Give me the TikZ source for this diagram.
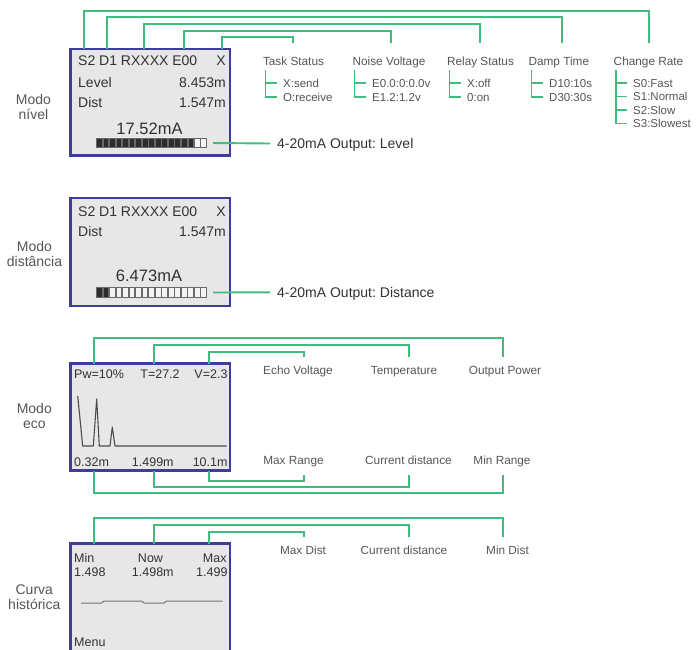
\documentclass[tikz,border=0pt]{standalone}
\usepackage{fontspec}
\setmainfont{Liberation Sans}
\frenchspacing
\definecolor{grn}{RGB}{64,188,124}
\definecolor{lcdblue}{RGB}{62,62,152}
\definecolor{lcdgray}{RGB}{231,231,231}
\definecolor{dtext}{RGB}{50,50,50}
\definecolor{labtext}{RGB}{85,85,85}
\definecolor{segdark}{RGB}{45,45,45}
\definecolor{segedge}{RGB}{105,105,105}
\definecolor{segoff}{RGB}{244,244,244}
\tikzset{
  conn/.style={draw=grn, line width=1.9pt},
  lcd/.style={draw=lcdblue, fill=lcdgray, line width=2.5pt, inner sep=0pt, outer sep=0pt, anchor=north west, minimum width=159.5pt},
  dtxt/.style={inner sep=0pt, text=dtext, font=\fontsize{14}{16}\selectfont, text height=10pt, text depth=0pt},
  etxt/.style={inner sep=0pt, text=dtext, font=\fontsize{12.5}{14}\selectfont, text height=8.95pt, text depth=0pt},
  bigtxt/.style={inner sep=0pt, text=dtext, font=\fontsize{16.5}{18}\selectfont, text height=11.8pt, text depth=0pt},
  side/.style={align=center, inner sep=0pt, text=labtext, font=\fontsize{14}{15.3}\selectfont},
  head/.style={inner sep=0pt, text=labtext, font=\fontsize{11.8}{13}\selectfont, text height=8.45pt, text depth=0pt},
  item/.style={inner sep=0pt, text=labtext, font=\fontsize{11.5}{13}\selectfont, text height=8.2pt, text depth=0pt, anchor=west},
  outl/.style={inner sep=0pt, text=dtext, font=\fontsize{14}{16}\selectfont, text height=10pt, text depth=0pt, anchor=west},
  barbox/.style={inner sep=0pt, outer sep=0pt, minimum width=111pt, minimum height=10pt},
  segon/.style={draw=segedge, fill=segdark, line width=0.6pt},
  segof/.style={draw=segedge, fill=segoff, line width=0.8pt},
  wave/.style={draw=black!70, line width=1.1pt, line join=round},
  flat/.style={draw=black!55, line width=1pt},
}
\begin{document}
\begin{tikzpicture}[x=1pt,y=-1pt]
\useasboundingbox (0,0) rectangle (696,649);

% ---------------- side labels
\node[side] (s1) at (33.5,106.8) {Modo\\nível};
\node[side] (s2) at (34.5,254.3) {Modo\\distância};
\node[side] (s3) at (34.3,415.7) {Modo\\eco};
\node[side] (s4) at (34.3,597.5) {Curva\\histórica};

% ---------------- panel 1 : Modo nivel
\node[lcd, minimum height=106.5pt] (lvl) at (70.25,49) {};
\node[dtxt, anchor=west] (l1) at (78,60) {S2 D1 RXXXX E00};
\node[dtxt, anchor=east] (l2) at (226,60) {X};
\node[dtxt, anchor=west] (l3) at (78,82.5) {Level};
\node[dtxt, anchor=east] (l4) at (226,82.5) {8.453m};
\node[dtxt, anchor=west] (l5) at (78,102) {Dist};
\node[dtxt, anchor=east] (l6) at (226,102) {1.547m};
\node[bigtxt] (l7) at (149.5,128.7) {17.52mA};
\node[barbox] (bar1) at (151.5,143) {};
\foreach \i in {0,...,16}{
  \pgfmathsetmacro\xa{96+\i*6.53+0.4}
  \pgfmathsetmacro\xb{96+(\i+1)*6.53-0.4}
  \ifnum\i<15
    \path[segon] (\xa,138.5) rectangle (\xb,147.5);
  \else
    \path[segof] (\xa,138.5) rectangle (\xb,147.5);
  \fi
}
\node[outl] (o1) at (277,143.5) {4-20mA Output: Level};
\draw[conn] ([xshift=6pt]bar1.east) -- ([xshift=-7pt]o1.west);

% heads
\node[head] (ts) at (293.5,61) {Task Status};
\node[head] (nv) at (389,61) {Noise Voltage};
\node[head] (rs) at (480.5,61) {Relay Status};
\node[head] (dt) at (558.8,61) {Damp Time};
\node[head] (cr) at (648.5,61) {Change Rate};
\coordinate (tsT) at (293,43);
\coordinate (nvT) at (391,43);
\coordinate (rsT) at (480,43);
\coordinate (dtT) at (562,43);
\coordinate (crT) at (649,43);
\draw[conn] ([xshift=13.75pt]lvl.north west) -- ++(0,-38) -| (crT);
\draw[conn] ([xshift=36.75pt]lvl.north west) -- ++(0,-32) -| (dtT);
\draw[conn] ([xshift=73.75pt]lvl.north west) -- ++(0,-25) -| (rsT);
\draw[conn] ([xshift=113.75pt]lvl.north west) -- ++(0,-18) -| (nvT);
\draw[conn] ([xshift=151.75pt]lvl.north west) -- ++(0,-12) -| (tsT);

% items
\node[item] (a1) at (283,83) {X:send};
\node[item] (a2) at (283,97) {O:receive};
\node[item] (b1) at (372,83) {E0.0:0:0.0v};
\node[item] (b2) at (372,97) {E1.2:1.2v};
\node[item] (c1) at (467,83) {X:off};
\node[item] (c2) at (467,97) {0:on};
\node[item] (d1) at (549,83) {D10:10s};
\node[item] (d2) at (549,97) {D30:30s};
\node[item] (e1) at (633,83) {S0:Fast};
\node[item] (e2) at (633,96.5) {S1:Normal};
\node[item] (e3) at (633,110) {S2:Slow};
\node[item] (e4) at (633,123.5) {S3:Slowest};
\foreach \p/\q in {a1/a2,b1/b2,c1/c2,d1/d2}{
  \draw[conn] ([xshift=-6.5pt]\p.west) -| ([xshift=-17.5pt,yshift=13pt]\p.west);
  \draw[conn] ([xshift=-6.5pt]\q.west) -| ([xshift=-17.5pt]\p.west);
}
\draw[conn] ([xshift=-6.5pt]e1.west) -| ([xshift=-17pt,yshift=13pt]e1.west);
\draw[conn] ([xshift=-6.5pt]e2.west) -| ([xshift=-17pt]e1.west);
\draw[conn] ([xshift=-6.5pt]e3.west) -| ([xshift=-17pt]e2.west);
\draw[conn] ([xshift=-6.5pt]e4.west) -| ([xshift=-17pt]e3.west);

% ---------------- panel 2 : Modo distancia
\node[lcd, minimum height=108pt] (dst) at (70.25,198) {};
\node[dtxt, anchor=west] (m1) at (78,211) {S2 D1 RXXXX E00};
\node[dtxt, anchor=east] (m2) at (226,211) {X};
\node[dtxt, anchor=west] (m3) at (78,231.7) {Dist};
\node[dtxt, anchor=east] (m4) at (226,231.7) {1.547m};
\node[bigtxt] (m5) at (149,276) {6.473mA};
\node[barbox, minimum height=11pt] (bar2) at (151.5,292.5) {};
\foreach \i in {0,...,16}{
  \pgfmathsetmacro\xa{96+\i*6.53+0.4}
  \pgfmathsetmacro\xb{96+(\i+1)*6.53-0.4}
  \ifnum\i<2
    \path[segon] (\xa,287.5) rectangle (\xb,297.5);
  \else
    \path[segof] (\xa,287.5) rectangle (\xb,297.5);
  \fi
}
\node[outl] (o2) at (277,292.3) {4-20mA Output: Distance};
\draw[conn] ([xshift=6pt]bar2.east) -- ([xshift=-7pt]o2.west);

% ---------------- panel 3 : Modo eco
\node[lcd, minimum height=107pt] (eco) at (70.25,363.5) {};
\node[etxt, anchor=west] (p1) at (74,374.3) {Pw=10\%};
\node[etxt] (p2) at (160,374.3) {T=27.2};
\node[etxt, anchor=east] (p3) at (227.7,374.3) {V=2.3};
\node[etxt, anchor=west] (p4) at (74,461.7) {0.32m};
\node[etxt] (p5) at (152.8,461.7) {1.499m};
\node[etxt, anchor=east] (p6) at (227.7,461.7) {10.1m};
\draw[wave] (77.7,396) -- (82.7,446) -- (93.3,446) -- (96.7,399) -- (99.3,446)
  -- (110,446) -- (112.3,427) -- (115,446) -- (226.7,446);

\node[head] (ev) at (298,370) {Echo Voltage};
\node[head] (tp) at (404,370) {Temperature};
\node[head] (op) at (505,370) {Output Power};
\node[head] (mr) at (293.5,460) {Max Range};
\node[head] (cd) at (408.5,460) {Current distance};
\node[head] (nr) at (502,460) {Min Range};
\coordinate (evT) at (304,356.5);
\coordinate (tpT) at (409,356.5);
\coordinate (opT) at (503,356.5);
\coordinate (mrB) at (304,475);
\coordinate (cdB) at (409,475);
\coordinate (nrB) at (503,475);
\draw[conn] ([xshift=23.75pt]eco.north west) -- ++(0,-25.5) -| (opT);
\draw[conn] ([xshift=83.75pt]eco.north west) -- ++(0,-18.5) -| (tpT);
\draw[conn] ([xshift=138.75pt]eco.north west) -- ++(0,-11.5) -| (evT);
\draw[conn] ([xshift=138.75pt]eco.south west) -- ++(0,10.5) -| (mrB);
\draw[conn] ([xshift=83.75pt]eco.south west) -- ++(0,16.5) -| (cdB);
\draw[conn] ([xshift=23.75pt]eco.south west) -- ++(0,22.5) -| (nrB);

% ---------------- panel 4 : Curva historica
\node[lcd, minimum height=116.5pt] (his) at (70.25,543.5) {};
\node[etxt, anchor=west] (q1) at (74,558.3) {Min};
\node[etxt] (q2) at (150.5,558.3) {Now};
\node[etxt, anchor=east] (q3) at (226.7,558.3) {Max};
\node[etxt, anchor=west] (q4) at (74,571.7) {1.498};
\node[etxt] (q5) at (152.8,571.7) {1.498m};
\node[etxt, anchor=east] (q6) at (227.7,571.7) {1.499};
\node[etxt, anchor=west] (q7) at (74,641.7) {Menu};
\draw[flat] (81,603) -- (101.7,603) -- (104,601) -- (141.7,601) -- (144,603)
  -- (164,603) -- (166.5,601) -- (222.7,601);

\node[head] (xd) at (303,550.5) {Max Dist};
\node[head] (hd) at (404,550.5) {Current distance};
\node[head] (nd) at (507.5,550.5) {Min Dist};
\coordinate (xdT) at (304,537);
\coordinate (hdT) at (409,537);
\coordinate (ndT) at (503,537);
\draw[conn] ([xshift=23.75pt]his.north west) -- ++(0,-25.5) -| (ndT);
\draw[conn] ([xshift=83.75pt]his.north west) -- ++(0,-18.5) -| (hdT);
\draw[conn] ([xshift=138.75pt]his.north west) -- ++(0,-11.5) -| (xdT);
\end{tikzpicture}
\end{document}
